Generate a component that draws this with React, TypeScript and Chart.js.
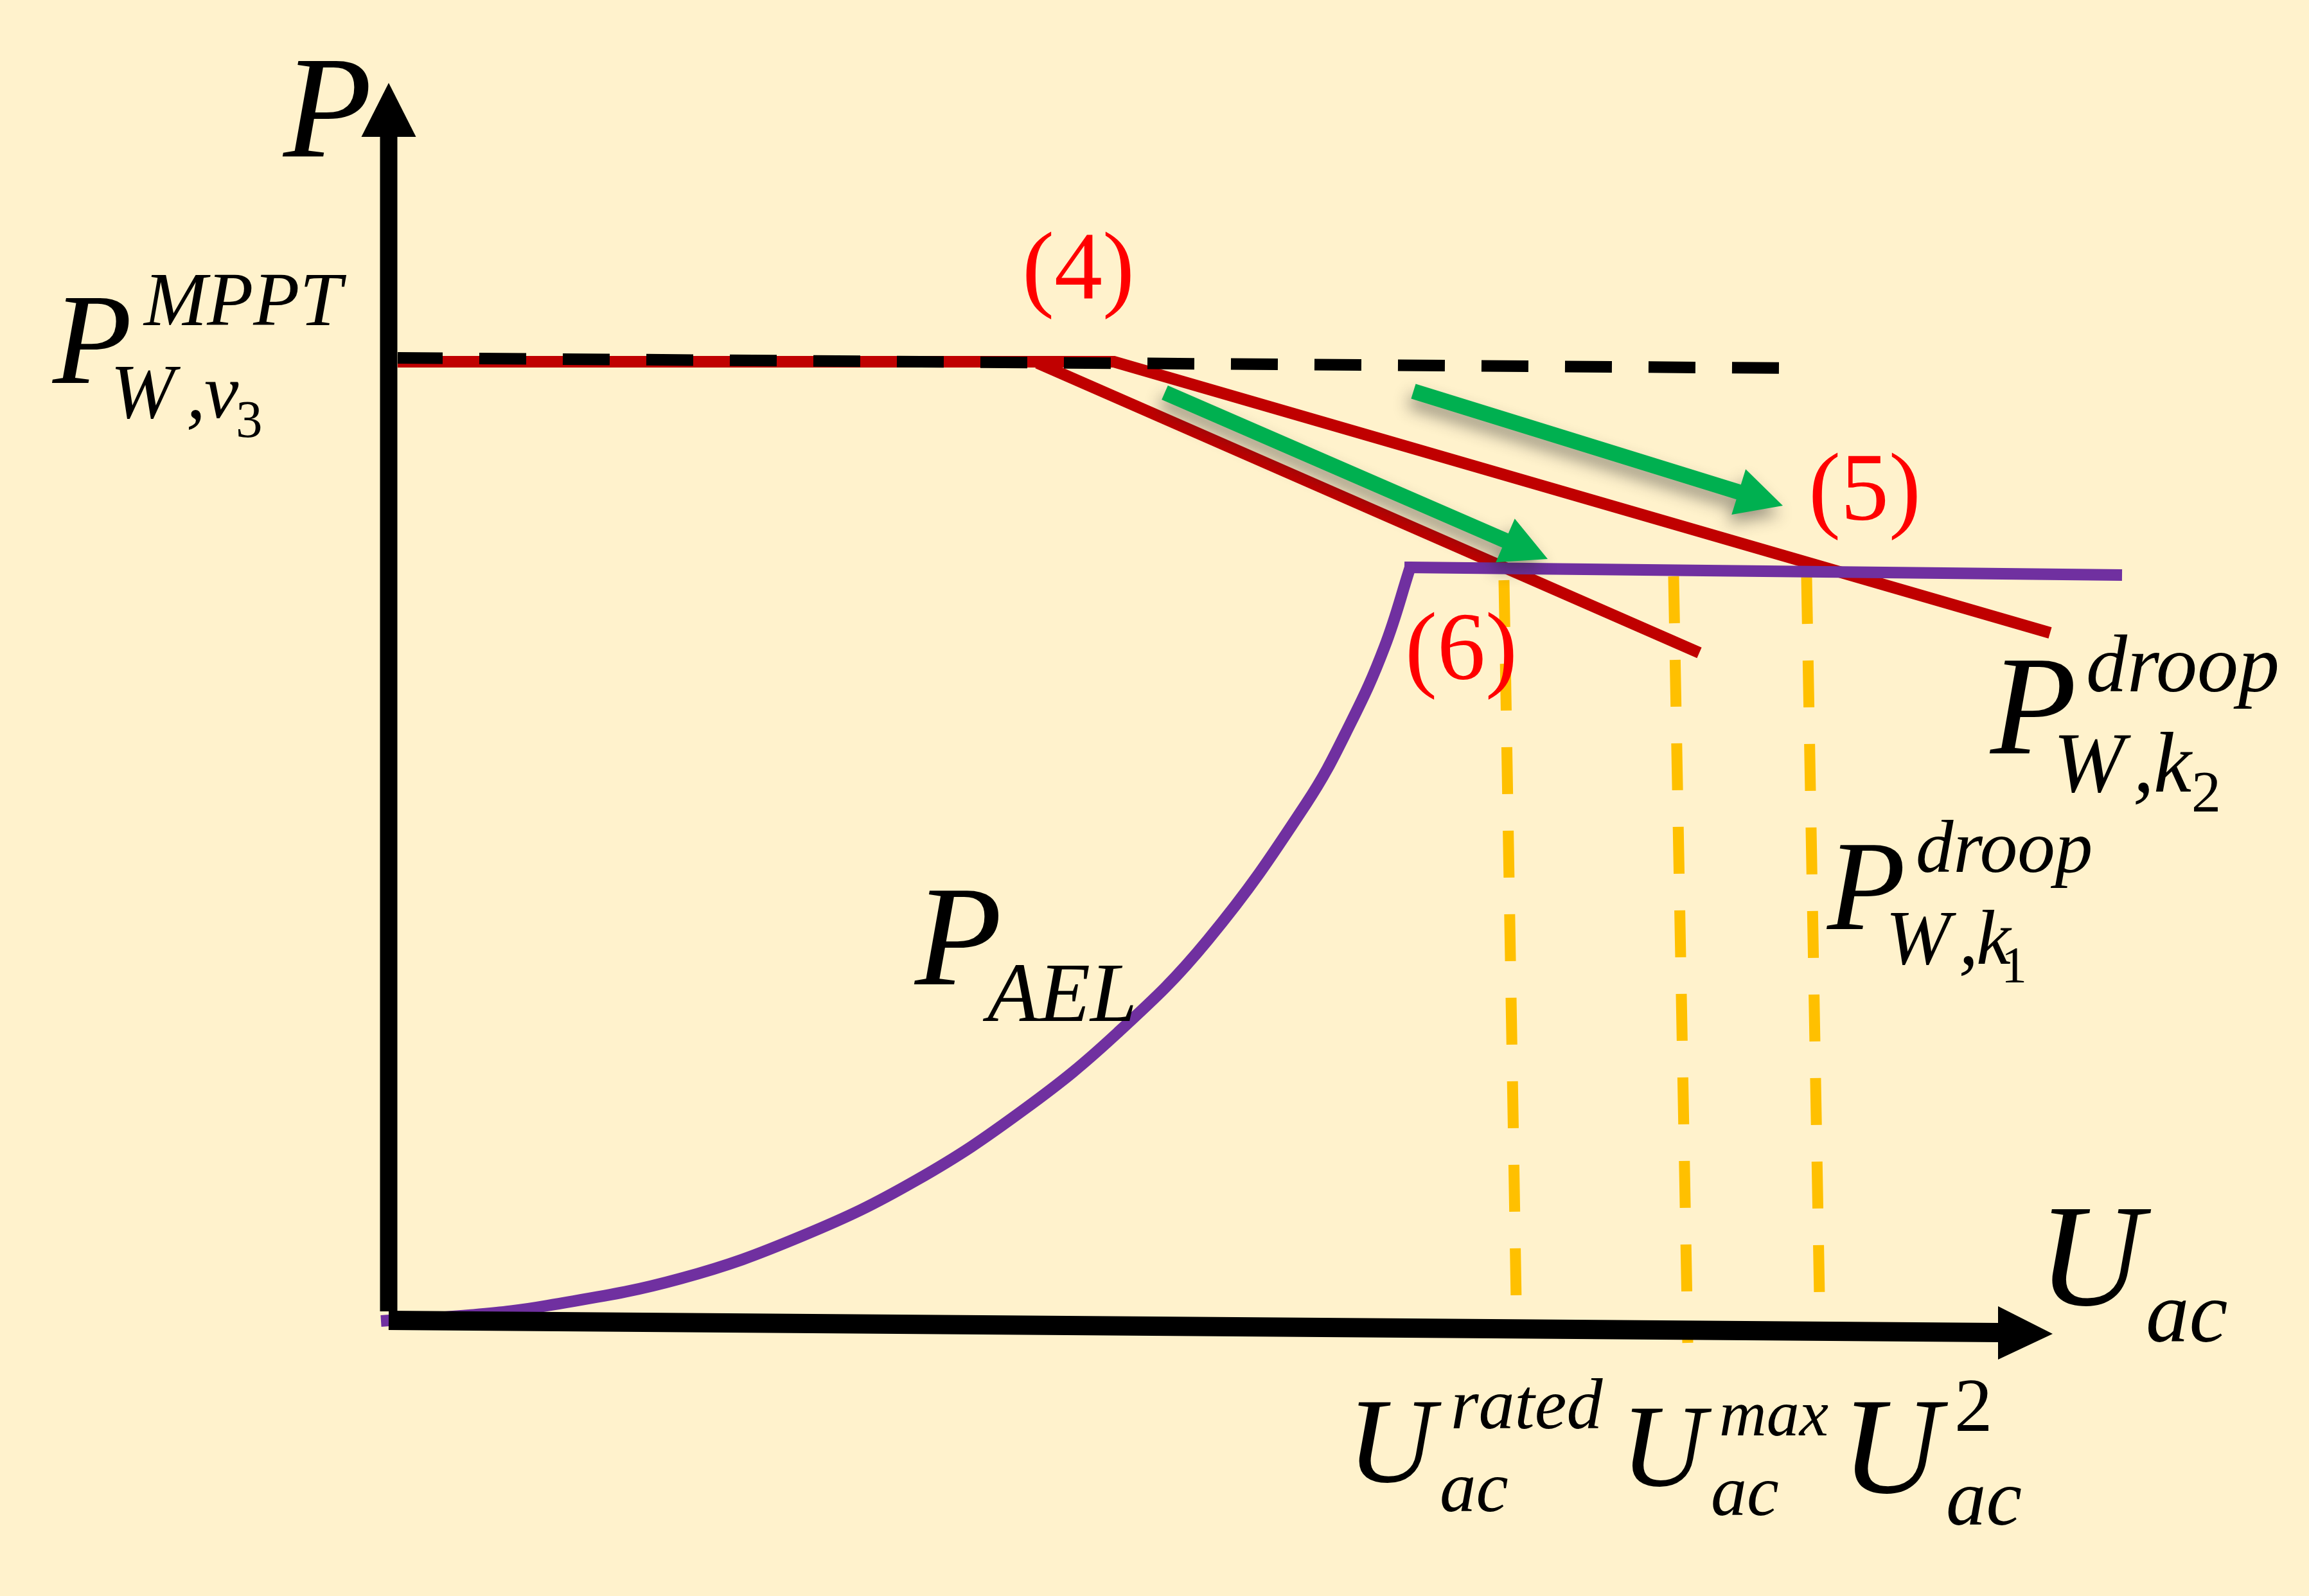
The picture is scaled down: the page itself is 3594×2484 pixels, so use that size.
import React, { useEffect, useRef } from 'react';
import { Chart, registerables } from 'chart.js';

Chart.register(...registerables);

const W = 3594;
const H = 2484;

// value ranges of the (hidden) scales
const U_MIN = -6.05;
const U_MAX = 29.89;
const P_MIN = -4.29;
const P_MAX = 20.55;

// P_W,v3^MPPT (black dashed)
const MPPT_U = [0.14, 21.82];
const MPPT_P = [14.98, 14.82];

// P_W,k2^droop (red, flat then droop)
const K2_U = [0.14, 11.29, 25.86];
const K2_P = [14.92, 14.92, 10.7];

// P_W,k1^droop (red)
const K1_U = [10.1, 20.4];
const K1_P = [14.9, 10.39];

// P_AEL (purple) curve part and flat part
const AEL_CURVE_U = [-0.12, 1.25, 2.47, 4.54, 6.45, 8.21, 9.9, 11.35, 12.75, 14.28, 14.97, 15.5, 15.9];
const AEL_CURVE_P = [-0.01, 0.08, 0.23, 0.65, 1.32, 2.18, 3.29, 4.48, 5.92, 8.04, 9.29, 10.48, 11.72];
const AEL_FLAT_U = [15.9, 26.89];
const AEL_FLAT_P = [11.72, 11.6];

// orange dashed markers: U_ac^rated, U_ac^max, U_ac^2
const RATED_U = [17.36, 17.55];
const RATED_P = [11.52, 0.3];
const MAX_U = [20.0, 20.22];
const MAX_P = [11.58, -0.35];
const U2_U = [22.07, 22.27];
const U2_P = [11.57, 0.37];

// axes
const YAXIS_U = [0, 0];
const YAXIS_P = [0.14, 18.45];
const XAXIS_U = [0, 25.08];
const XAXIS_P = [0, -0.19];

// green transition arrows
const ARROW_FROM_U = [15.95, 12.08];
const ARROW_FROM_P = [14.46, 14.44];
const ARROW_TO_U = [21.7, 18.04];
const ARROW_TO_P = [12.68, 11.85];

const BG = '#FFF2CC';
const RED = '#C00000';
const PURPLE = '#7030A0';
const ORANGE = '#FFC000';
const GREEN = '#00B050';
const RED_TEXT = '#FF0000';
const BLACK = '#000000';

type Lbl = { t: string; u: number; p: number; s: number; it: boolean; c?: string };

const LABELS: Lbl[] = [
  { t: 'P', u: -1.66, p: 18.12, s: 226, it: true },
  { t: 'P', u: -5.25, p: 14.59, s: 202, it: true },
  { t: 'MPPT', u: -3.83, p: 15.49, s: 118, it: true },
  { t: 'W', u: -4.26, p: 14.05, s: 120, it: true },
  { t: ',', u: -3.12, p: 14.05, s: 120, it: true },
  { t: 'v', u: -2.86, p: 14.05, s: 120, it: true },
  { t: '3', u: -2.35, p: 13.75, s: 83, it: false },
  { t: '(4)', u: 9.92, p: 15.9, s: 150, it: false, c: RED_TEXT },
  { t: '(5)', u: 22.16, p: 12.46, s: 150, it: false, c: RED_TEXT },
  { t: '(6)', u: 15.88, p: 9.98, s: 150, it: false, c: RED_TEXT },
  { t: 'P', u: 8.17, p: 5.23, s: 222, it: true },
  { t: 'AEL', u: 9.24, p: 4.66, s: 131, it: true },
  { t: 'P', u: 24.91, p: 8.82, s: 220, it: true },
  { t: 'droop', u: 26.45, p: 9.79, s: 128, it: true },
  { t: 'W', u: 25.99, p: 8.23, s: 133, it: true },
  { t: ',', u: 27.19, p: 8.23, s: 133, it: true },
  { t: 'k', u: 27.5, p: 8.23, s: 133, it: true },
  { t: '2', u: 28.1, p: 7.92, s: 92, it: false },
  { t: 'P', u: 22.37, p: 6.09, s: 200, it: true },
  { t: 'droop', u: 23.8, p: 6.98, s: 117, it: true },
  { t: 'W', u: 23.37, p: 5.55, s: 121, it: true },
  { t: ',', u: 24.48, p: 5.55, s: 121, it: true },
  { t: 'k', u: 24.74, p: 5.55, s: 121, it: true },
  { t: '1', u: 25.17, p: 5.26, s: 80, it: false },
  { t: 'U', u: 25.87, p: 0.24, s: 227, it: true },
  { t: 'ac', u: 27.39, p: -0.33, s: 135, it: true },
  { t: 'U', u: 15.09, p: -2.51, s: 189, it: true },
  { t: 'rated', u: 16.57, p: -1.68, s: 112, it: true },
  { t: 'ac', u: 16.39, p: -2.97, s: 113, it: true },
  { t: 'U', u: 19.34, p: -2.57, s: 182, it: true },
  { t: 'max', u: 20.74, p: -1.79, s: 102, it: true },
  { t: 'ac', u: 20.61, p: -3.03, s: 112, it: true },
  { t: 'U', u: 22.8, p: -2.68, s: 214, it: true },
  { t: '2', u: 24.42, p: -1.72, s: 119, it: false },
  { t: 'ac', u: 24.27, p: -3.18, s: 125, it: true },
];

const pts = (us: number[], ps: number[]) => us.map((u, i) => ({ x: u, y: ps[i] }));

const line = (label: string, us: number[], ps: number[], color: string, width: number, order: number, extra: any = {}) => ({
  label,
  data: pts(us, ps),
  showLine: true,
  borderColor: color,
  backgroundColor: color,
  borderWidth: width,
  pointRadius: 0,
  pointHoverRadius: 0,
  tension: 0,
  fill: false,
  order,
  borderJoinStyle: 'miter',
  ...extra,
});

const bgPlugin = {
  id: 'bgFill',
  beforeDraw(chart: any) {
    const { ctx, width, height } = chart;
    ctx.save();
    ctx.fillStyle = BG;
    ctx.fillRect(0, 0, width, height);
    ctx.restore();
  },
};

const decoPlugin = {
  id: 'deco',
  afterDatasetsDraw(chart: any) {
    const { ctx } = chart;
    const xs = chart.scales.x;
    const ys = chart.scales.y;
    const px = (u: number) => xs.getPixelForValue(u);
    const py = (p: number) => ys.getPixelForValue(p);

    // axis arrowheads
    ctx.save();
    ctx.fillStyle = BLACK;
    ctx.beginPath();
    ctx.moveTo(px(0), py(19.26));
    ctx.lineTo(px(0.425), py(18.42));
    ctx.lineTo(px(-0.425), py(18.42));
    ctx.closePath();
    ctx.fill();
    ctx.beginPath();
    ctx.moveTo(px(25.9), py(-0.21));
    ctx.lineTo(px(25.05), py(0.22));
    ctx.lineTo(px(25.05), py(-0.61));
    ctx.closePath();
    ctx.fill();
    ctx.restore();

    // green arrows with shadow
    for (let i = 0; i < ARROW_FROM_U.length; i++) {
      const sx = px(ARROW_FROM_U[i]);
      const sy = py(ARROW_FROM_P[i]);
      const ex = px(ARROW_TO_U[i]);
      const ey = py(ARROW_TO_P[i]);
      const len = Math.hypot(ex - sx, ey - sy);
      const dx = (ex - sx) / len;
      const dy = (ey - sy) / len;
      const nx = -dy;
      const ny = dx;
      const headLen = 72;
      const headHalf = 37;
      const sh = 12;
      const bx = ex - dx * headLen;
      const by = ey - dy * headLen;
      ctx.save();
      ctx.shadowColor = 'rgba(40,40,40,0.45)';
      ctx.shadowBlur = 24;
      ctx.shadowOffsetX = -5;
      ctx.shadowOffsetY = 14;
      ctx.fillStyle = GREEN;
      ctx.beginPath();
      ctx.moveTo(sx + nx * sh, sy + ny * sh);
      ctx.lineTo(bx + nx * sh, by + ny * sh);
      ctx.lineTo(bx + nx * headHalf, by + ny * headHalf);
      ctx.lineTo(ex, ey);
      ctx.lineTo(bx - nx * headHalf, by - ny * headHalf);
      ctx.lineTo(bx - nx * sh, by - ny * sh);
      ctx.lineTo(sx - nx * sh, sy - ny * sh);
      ctx.closePath();
      ctx.fill();
      ctx.restore();
    }

    // labels (anchored at ink-left / baseline)
    ctx.save();
    ctx.textAlign = 'left';
    ctx.textBaseline = 'alphabetic';
    for (const l of LABELS) {
      ctx.font = `${l.it ? 'italic ' : ''}${l.s}px "Liberation Serif", "Times New Roman", serif`;
      ctx.fillStyle = l.c || BLACK;
      const m = ctx.measureText(l.t);
      const x = px(l.u) + (m.actualBoundingBoxLeft || 0);
      ctx.fillText(l.t, x, py(l.p));
    }
    ctx.restore();
  },
};

export default function App() {
  const ref = useRef<HTMLCanvasElement>(null);

  useEffect(() => {
    document.body.style.margin = '0';
    const canvas = ref.current!;
    const dash = [73, 57];
    const chart = new Chart(canvas, {
      type: 'scatter',
      data: {
        datasets: [
          line('U_ac^rated', RATED_U, RATED_P, ORANGE, 17, 60, { borderDash: dash }),
          line('U_ac^max', MAX_U, MAX_P, ORANGE, 17, 60, { borderDash: dash }),
          line('U_ac^2', U2_U, U2_P, ORANGE, 17, 60, { borderDash: dash }),
          line('P_W,k1^droop', K1_U, K1_P, RED, 18, 50),
          line('P_W,k2^droop', K2_U, K2_P, RED, 18, 45),
          line('P_W,v3^MPPT', MPPT_U, MPPT_P, BLACK, 18, 40, { borderDash: dash, borderDashOffset: 3 }),
          line('P_AEL', AEL_CURVE_U, AEL_CURVE_P, PURPLE, 18, 30, { tension: 0.4 }),
          line('P_AEL flat', AEL_FLAT_U, AEL_FLAT_P, PURPLE, 18, 30, { borderCapStyle: 'square' }),
          line('P axis', YAXIS_U, YAXIS_P, BLACK, 27, 10),
          line('U axis', XAXIS_U, XAXIS_P, BLACK, 30, 10),
        ] as any,
      },
      options: {
        responsive: false,
        maintainAspectRatio: false,
        devicePixelRatio: 1,
        animation: false,
        events: [],
        layout: { padding: 0 },
        plugins: {
          legend: { display: false },
          tooltip: { enabled: false },
          title: { display: false },
        },
        scales: {
          x: { type: 'linear', min: U_MIN, max: U_MAX, display: false },
          y: { type: 'linear', min: P_MIN, max: P_MAX, display: false },
        },
      } as any,
      plugins: [bgPlugin, decoPlugin],
    });
    const fontsReady = (document as any).fonts;
    if (fontsReady && fontsReady.load) {
      Promise.all([
        fontsReady.load('italic 100px "Liberation Serif"'),
        fontsReady.load('100px "Liberation Serif"'),
      ])
        .then(() => {
          try {
            chart.draw();
          } catch (e) {
            /* ignore */
          }
        })
        .catch(() => {});
    }
    return () => chart.destroy();
  }, []);

  return (
    <div style={{ width: W, height: H, overflow: 'hidden' }}>
      <canvas ref={ref} width={W} height={H} style={{ display: 'block', width: W, height: H }} />
    </div>
  );
}
